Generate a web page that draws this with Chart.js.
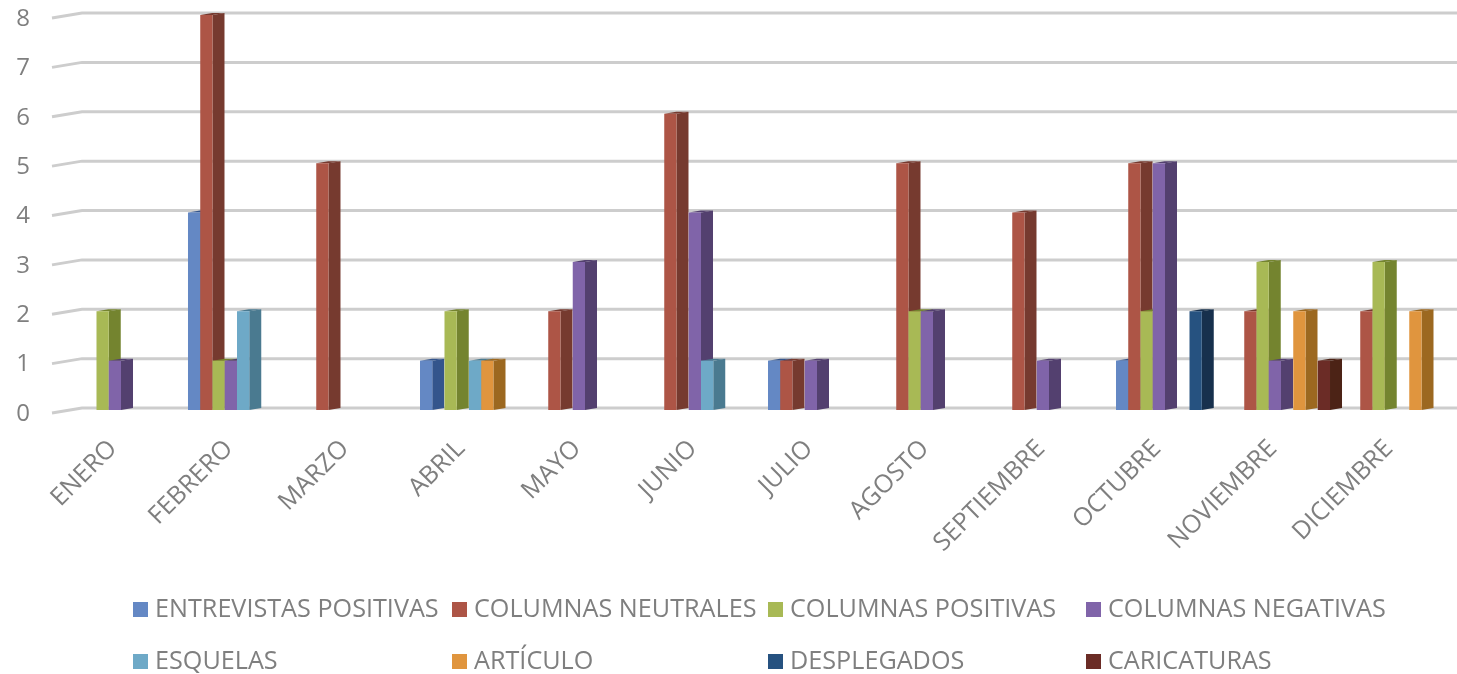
<!DOCTYPE html>
<html lang="es">
<head>
    <meta charset="UTF-8">
    <title>Publicaciones por mes</title>
    <script src="https://cdn.jsdelivr.net/npm/chart.js"></script>
    <style>
        html, body { margin: 0; padding: 0; background: #fff; overflow: hidden; }
        canvas { display: block; }
    </style>
</head>
<body>
<canvas id="monthChart" width="1457" height="674"></canvas>

<script>
    const months = ['ENERO', 'FEBRERO', 'MARZO', 'ABRIL', 'MAYO', 'JUNIO', 'JULIO', 'AGOSTO', 'SEPTIEMBRE', 'OCTUBRE', 'NOVIEMBRE', 'DICIEMBRE'];

    const entrevistasPositivas = [0, 4, 0, 1, 0, 0, 1, 0, 0, 1, 0, 0];
    const columnasNeutrales = [0, 8, 5, 0, 2, 6, 1, 5, 4, 5, 2, 2];
    const columnasPositivas = [2, 1, 0, 2, 0, 0, 0, 2, 0, 2, 3, 3];
    const columnasNegativas = [1, 1, 0, 0, 3, 4, 1, 2, 1, 5, 1, 0];
    const esquelas = [0, 2, 0, 1, 0, 1, 0, 0, 0, 0, 0, 0];
    const articulo = [0, 0, 0, 1, 0, 0, 0, 0, 0, 0, 2, 2];
    const desplegados = [0, 0, 0, 0, 0, 0, 0, 0, 0, 2, 0, 0];
    const caricaturas = [0, 0, 0, 0, 0, 0, 0, 0, 0, 0, 1, 0];

    const textColor = '#7f7f7f';
    const depth = 12;

    // front colour, side colour
    const series = [
        ['ENTREVISTAS POSITIVAS', entrevistasPositivas, '#6488c4', '#34558c'],
        ['COLUMNAS NEUTRALES', columnasNeutrales, '#ad5546', '#763a2f'],
        ['COLUMNAS POSITIVAS', columnasPositivas, '#a8b955', '#74842f'],
        ['COLUMNAS NEGATIVAS', columnasNegativas, '#8064a9', '#53406f'],
        ['ESQUELAS', esquelas, '#6ea9c7', '#4a7a90'],
        ['ARTÍCULO', articulo, '#e0953e', '#9c6820'],
        ['DESPLEGADOS', desplegados, '#265280', '#17304d'],
        ['CARICATURAS', caricaturas, '#6b2c26', '#4c2316']
    ];

    const legendX = [133, 452, 768, 1086];
    const legendY = [610, 662];

    // wall lines with the little slanted piece on the left
    const wallGrid = {
        id: 'wallGrid',
        beforeDatasetsDraw(chart) {
            const { ctx, scales: { y }, chartArea } = chart;
            ctx.save();
            y.ticks.forEach(t => {
                const py = y.getPixelForValue(t.value);
                ctx.lineWidth = 3;
                ctx.strokeStyle = '#cdcdcd';
                ctx.beginPath();
                ctx.moveTo(chartArea.left - 11, py + 5);
                ctx.lineTo(chartArea.left + 19, py);
                ctx.lineTo(chartArea.right + 2, py);
                ctx.stroke();
            });
            ctx.restore();
        }
    };

    // bars get a side face; drawn first to last so later series cover earlier sides
    const bars3d = {
        id: 'bars3d',
        beforeDatasetDraw() {
            return false;
        },
        afterDatasetsDraw(chart) {
            const { ctx } = chart;
            ctx.save();
            ctx.translate(0, 2);
            series.forEach((s, i) => {
                chart.getDatasetMeta(i).data.forEach((bar, k) => {
                    if (!s[1][k]) return;
                    const { x, y, base, width } = bar.getProps(['x', 'y', 'base', 'width'], true);
                    const right = x + width / 2;
                    const left = x - width / 2;
                    ctx.fillStyle = s[3];
                    ctx.beginPath();
                    ctx.moveTo(right, y);
                    ctx.lineTo(right + depth, y - 2);
                    ctx.lineTo(right + depth, base - 2);
                    ctx.lineTo(right, base);
                    ctx.closePath();
                    ctx.fill();
                    ctx.beginPath();
                    ctx.moveTo(left, y);
                    ctx.lineTo(left + depth, y - 2);
                    ctx.lineTo(right + depth, y - 2);
                    ctx.lineTo(right, y);
                    ctx.closePath();
                    ctx.fill();
                    bar.draw(ctx);
                });
            });
            ctx.restore();
        }
    };

    // legend sits in fixed columns, the built-in one can't do that
    const columnLegend = {
        id: 'columnLegend',
        afterDraw(chart) {
            const { ctx } = chart;
            ctx.save();
            ctx.font = '25.2px "Open Sans"';
            ctx.textBaseline = 'middle';
            series.forEach((s, i) => {
                const x = legendX[i % 4];
                const y = legendY[Math.floor(i / 4)];
                ctx.fillStyle = s[2];
                ctx.fillRect(x, y - 8, 15, 15);
                ctx.fillStyle = textColor;
                ctx.fillText(s[0], x + 22, y);
            });
            ctx.restore();
        }
    };

    new Chart(document.getElementById('monthChart').getContext('2d'), {
        type: 'bar',
        data: {
            labels: months,
            datasets: series.map(s => ({
                label: s[0],
                data: s[1],
                backgroundColor: s[2],
                borderWidth: 0
            }))
        },
        options: {
            responsive: false,
            animation: false,
            layout: { padding: { top: 13, right: 2 } },
            barPercentage: 1,
            categoryPercentage: 0.845,
            plugins: {
                legend: { display: false },
                tooltip: { enabled: false }
            },
            scales: {
                x: {
                    grid: { display: false },
                    border: { display: false },
                    afterFit(scale) { scale.height = 266; },
                    ticks: {
                        autoSkip: false,
                        minRotation: 45,
                        maxRotation: 45,
                        padding: 18,
                        labelOffset: -8,
                        color: textColor,
                        font: { family: 'Open Sans', size: 25 }
                    }
                },
                y: {
                    min: 0,
                    max: 8,
                    grid: { display: false },
                    border: { display: false },
                    afterFit(scale) {
                        scale.width = 63;
                        scale.paddingTop = 0;
                        scale.paddingBottom = 0;
                    },
                    ticks: {
                        stepSize: 1,
                        padding: 25,
                        labelOffset: 6,
                        color: textColor,
                        font: { family: 'Open Sans', size: 24 }
                    }
                }
            }
        },
        plugins: [wallGrid, bars3d, columnLegend]
    });
</script>
</body>
</html>
